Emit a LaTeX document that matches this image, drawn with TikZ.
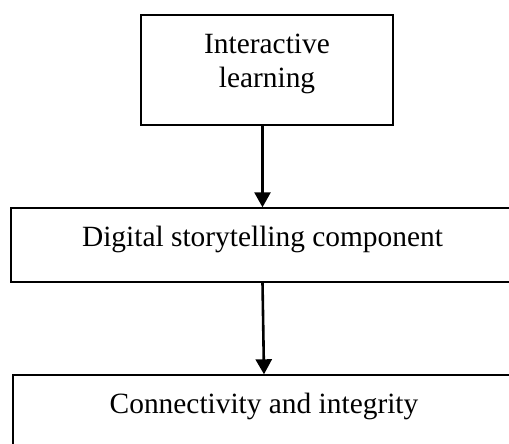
\documentclass[tikz,border=0pt]{standalone}
\usepackage{fontspec}
\setmainfont{Liberation Serif}
\usetikzlibrary{arrows.meta}

\begin{document}
\begin{tikzpicture}[x=1bp,y=-1bp]
\tikzstyle{every node}+=[inner sep=0pt]
\tikzstyle{box}=[draw=black, line width=1.4bp, rectangle]
\tikzstyle{txt}=[font=\fontsize{29.5}{35}\selectfont, align=center, anchor=base]
\tikzstyle{flow}=[black, line width=2.6bp, -{Triangle[width=16bp,length=15bp]}]
\useasboundingbox (0,0) rectangle (509,444);
\fill [white] (0,0) rectangle (509,444);
\node [box, minimum width=252bp, minimum height=110bp] (inter) at (267,70) {};
\node [txt] (interT) at (267,88) {Interactive\\learning};
\node [box, minimum width=503bp, minimum height=74bp] (story) at (262.5,245) {};
\node [txt] (storyT) at (262.5,246.7) {Digital storytelling component};
\node [box, minimum width=502bp, minimum height=100bp] (conn) at (264,425) {};
\node [txt] (connT) at (264,413) {Connectivity and integrity};
\draw [flow] (story.north |- inter.south) -- (story.north);
\draw [flow] (story.south) -- (conn.north);
\end{tikzpicture}
\end{document}
